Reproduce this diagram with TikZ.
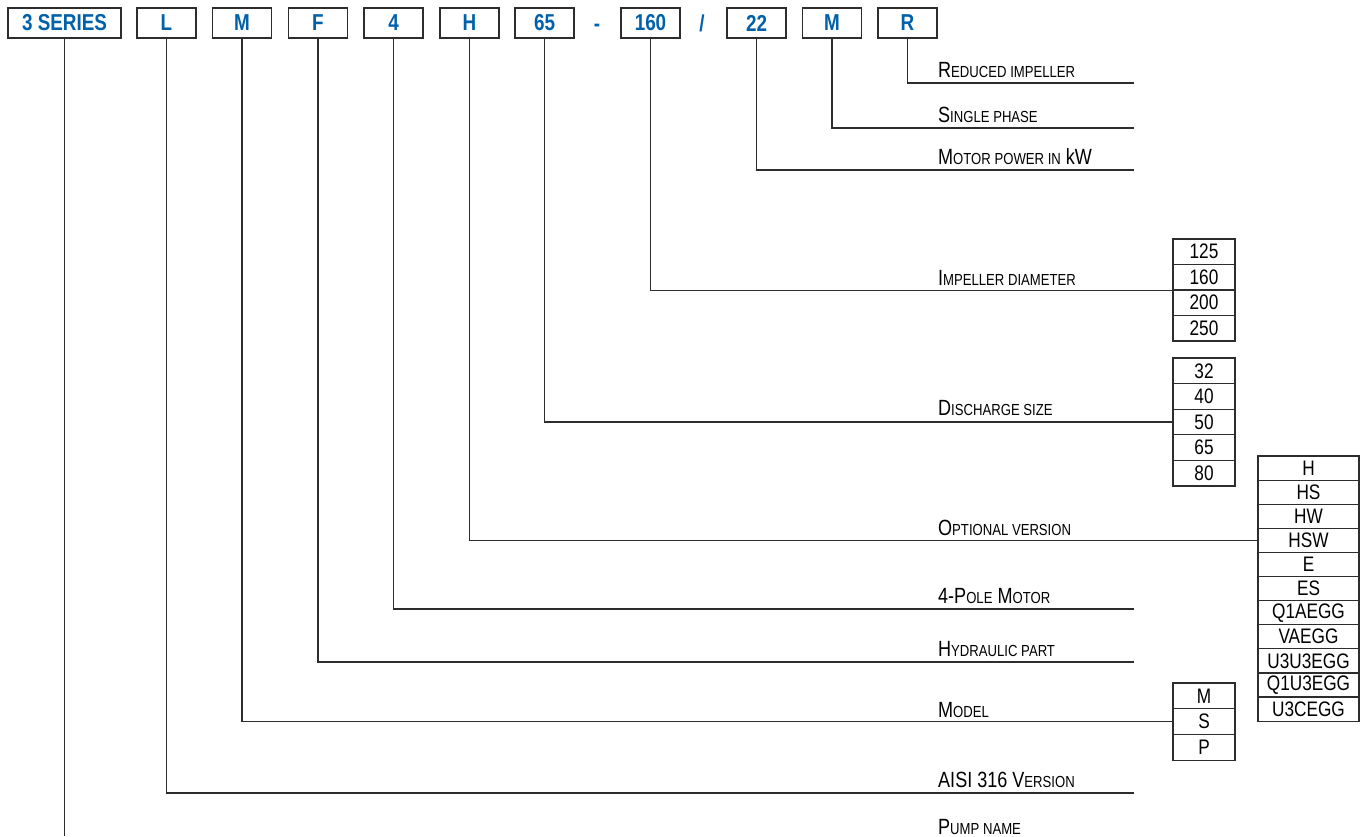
\documentclass[tikz,border=0pt]{standalone}
\usepackage{fontspec}
\setmainfont[FakeStretch=0.82]{Liberation Sans}
\usetikzlibrary{positioning}
\definecolor{codeblue}{RGB}{0, 96, 170}
\definecolor{rulegray}{RGB}{45, 45, 45}
\newcommand{\lowcaps}[1]{{\fontsize{16}{16}\selectfont #1}}

\begin{document}
\begin{tikzpicture}[
    x=1pt, y=-1pt,
    code/.style={rectangle, draw=rulegray, line width=1.3pt, minimum width=59pt, minimum height=30pt, inner sep=0pt, text=codeblue, font=\fontsize{23}{23}\selectfont\bfseries},
    sepchar/.style={anchor=base, inner sep=0pt, text=codeblue, font=\fontsize{23}{23}\selectfont\bfseries},
    lbl/.style={anchor=base west, inner sep=0pt, font=\fontsize{22}{22}\selectfont},
    cell/.style={rectangle, draw=rulegray, line width=1.2pt, minimum width=62pt, inner sep=0pt, font=\fontsize{21}{21}\selectfont},
    wire/.style={draw=rulegray, line width=1.2pt}
]
    \useasboundingbox (0,0) rectangle (1360,836);

    % code boxes
    \node[code, minimum width=113pt] (series) at (64.5,23) {3 SERIES};
    \node[code] (cL) at (166.5,23) {L};
    \node[code] (cM) at (242,23) {M};
    \node[code] (cF) at (318,23) {F};
    \node[code] (cFour) at (393.5,23) {4};
    \node[code] (cH) at (469.5,23) {H};
    \node[code] (cDis) at (544.5,23) {65};
    \node[sepchar] (dash) at (597,31) {-};
    \node[code] (cDia) at (650.5,23) {160};
    \node[sepchar] (slash) at (702,31) {/};
    \node[code] (cKw) at (756.5,23) {22};
    \node[code] (cPh) at (832,23) {M};
    \node[code] (cRed) at (907.5,23) {R};

    % option tables
    \foreach \v [count=\i] in {125,160,200,250}
        \node[cell, minimum height=25.5pt] (dia\i) at (1204,{239+25.5*(\i-0.5)}) {\v};
    \foreach \v [count=\i] in {32,40,50,65,80}
        \node[cell, minimum height=25.6pt] (dis\i) at (1204,{358+25.6*(\i-0.5)}) {\v};
    \foreach \v [count=\i] in {H,HS,HW,HSW,E,ES,Q1AEGG,VAEGG,U3U3EGG,Q1U3EGG,U3CEGG}
        \node[cell, minimum width=101pt, minimum height=24.1pt] (opt\i) at (1308.5,{456+24.1*(\i-0.5)}) {\v};
    \foreach \v [count=\i] in {M,S,P}
        \node[cell, minimum height=25.7pt] (mod\i) at (1204,{683+25.7*(\i-0.5)}) {\v};

    % labels
    \node[lbl] (lRed) at (938,77) {R\lowcaps{EDUCED IMPELLER}};
    \node[lbl] (lPh) at (938,122) {S\lowcaps{INGLE PHASE}};
    \node[lbl] (lKw) at (938,164) {M\lowcaps{OTOR POWER IN} kW};
    \node[lbl] (lDia) at (938,285) {I\lowcaps{MPELLER DIAMETER}};
    \node[lbl] (lDis) at (938,415) {D\lowcaps{ISCHARGE SIZE}};
    \node[lbl] (lH) at (938,535) {O\lowcaps{PTIONAL VERSION}};
    \node[lbl] (lFour) at (938,603) {4-P\lowcaps{OLE} M\lowcaps{OTOR}};
    \node[lbl] (lF) at (938,656) {H\lowcaps{YDRAULIC PART}};
    \node[lbl] (lM) at (938,717) {M\lowcaps{ODEL}};
    \node[lbl] (lL) at (938,787) {AISI 316 V\lowcaps{ERSION}};
    \node[lbl] (lPump) at (938,834) {P\lowcaps{UMP NAME}};

    % line ends
    \coordinate (eRed) at (1134,83);
    \coordinate (ePh) at (1134,128);
    \coordinate (eKw) at (1134,170);
    \coordinate (eFour) at (1134,609);
    \coordinate (eF) at (1134,662);
    \coordinate (eL) at (1134,793);
    \coordinate (ePump) at (64.5,836);

    % connectors
    \draw[wire] (cRed.south) |- (eRed);
    \draw[wire] (cPh.south) |- (ePh);
    \draw[wire] (cKw.south) |- (eKw);
    \draw[wire] (cDia.south) |- (dia2.south west);
    \draw[wire] (cDis.south) |- (dis3.west);
    \draw[wire] (cH.south) |- (opt4.west);
    \draw[wire] (cFour.south) |- (eFour);
    \draw[wire] (cF.south) |- (eF);
    \draw[wire] (cM.south) |- (mod2.west);
    \draw[wire] (cL.south) |- (eL);
    \draw[wire] (series.south) -- (ePump);

\end{tikzpicture}
\end{document}
